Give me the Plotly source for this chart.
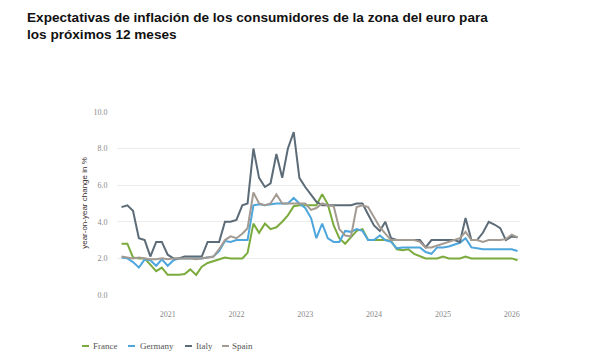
import pandas as pd
import plotly.graph_objects as go

months = pd.date_range("2020-05-01", periods=70, freq="MS")

france = [2.8,2.8,2.05,2.0,2.0,1.65,1.3,1.5,1.1,1.1,
          1.1,1.15,1.4,1.1,1.55,1.75,1.85,1.95,2.05,2.0,
          2.0,2.0,2.3,3.9,3.4,3.9,3.6,3.7,4.0,4.35,
          4.85,4.9,4.9,4.9,4.9,5.5,4.95,3.8,3.1,2.8,
          3.15,3.5,3.6,3.0,3.0,3.0,3.0,2.95,2.5,2.45,
          2.5,2.25,2.1,2.0,2.0,2.0,2.1,2.0,2.0,2.0,
          2.1,2.0,2.0,2.0,2.0,2.0,2.0,2.0,2.0,1.9]
germany = [2.05,2.0,1.8,1.5,1.95,1.9,1.6,1.95,1.6,1.9,
           2.0,2.0,2.0,2.0,2.0,2.05,2.1,2.4,2.95,2.9,
           3.0,3.0,3.0,4.9,4.95,4.9,4.95,5.0,5.0,5.0,
           5.3,5.0,4.75,4.2,3.1,3.9,3.1,2.9,2.9,3.5,
           3.45,3.6,3.5,3.0,3.0,3.25,3.0,2.9,2.55,2.6,
           2.6,2.6,2.6,2.35,2.25,2.6,2.6,2.65,2.75,2.85,
           3.1,2.6,2.55,2.5,2.5,2.5,2.5,2.5,2.5,2.4]
italy = [4.8,4.9,4.6,3.1,3.0,2.1,2.9,2.9,2.2,2.0,
         2.0,2.1,2.1,2.1,2.1,2.9,2.9,2.9,4.0,4.0,
         4.1,4.9,5.0,8.0,6.4,5.9,6.1,7.7,6.4,8.0,
         8.9,6.4,5.9,5.45,5.1,4.9,4.9,4.9,4.9,4.9,
         4.9,5.0,5.0,4.4,3.8,3.5,4.0,3.1,3.0,3.0,
         3.0,3.0,3.0,2.6,3.0,3.0,3.0,3.0,3.0,2.9,
         4.2,3.0,3.0,3.4,4.0,3.85,3.65,3.0,3.2,3.15]
spain = [2.1,2.05,2.0,2.05,2.0,1.95,1.95,2.0,1.95,2.0,
         2.0,2.0,2.0,1.95,2.0,2.05,2.1,2.5,3.0,3.2,
         3.1,3.35,3.65,5.6,5.0,4.9,5.0,5.5,5.0,5.0,
         5.0,5.0,5.0,4.65,4.75,5.0,4.9,4.85,3.6,3.25,
         3.2,4.8,4.9,4.8,4.25,3.7,3.35,3.0,3.0,3.0,
         3.0,3.0,2.9,2.6,2.6,2.7,2.8,2.9,3.0,3.1,
         3.45,3.0,3.0,2.9,3.0,3.0,3.0,3.05,3.3,3.15]

series_names = ["France", "Germany", "Italy", "Spain"]
series_values = [france, germany, italy, spain]
colors = ["#7aab3c", "#4ea6dc", "#5b6b77", "#a39a92"]
y_ticks = [0, 2, 4, 6, 8, 10]
title_lines = ["Expectativas de inflación de los consumidores de la zona del euro para",
               "los próximos 12 meses"]
y_title = "year-on-year change in %"

# page body has an 8px margin; figure coords = screen coords - 8
OFF = 8
W, H = 612, 358
L, T = 117 - OFF, 111 - OFF
pw, ph = 403, 184
R, B = W - L - pw, H - T - ph

def px_x(x):
    return (x - OFF - L) / pw

def px_y(y):
    return (H - B - (y - OFF)) / ph

fig = go.Figure()
for name, vals, col in zip(series_names, series_values, colors):
    fig.add_trace(go.Scatter(x=months, y=vals, mode="lines", name=name,
                             line=dict(color=col, width=2), showlegend=False))

serif = "Liberation Serif"
fig.update_layout(
    width=W, height=H, margin=dict(l=L, r=R, t=T, b=B),
    paper_bgcolor="white", plot_bgcolor="white",
    font=dict(family=serif, size=8, color="#8a8a8a"),
    xaxis=dict(type="date", range=["2020-04-07", "2026-02-14"],
               tick0="2021-01-01", dtick="M12", tickformat="%Y",
               showgrid=False, zeroline=False, showline=False,
               ticks="outside", ticklen=11, tickcolor="rgba(0,0,0,0)",
               tickfont=dict(family=serif, size=8, color="#8a8a8a")),
    yaxis=dict(range=[0, 10.05], tickvals=y_ticks, tickformat=".1f",
               showgrid=True, gridcolor="#ececec", gridwidth=1,
               zeroline=False, showline=False,
               ticks="outside", ticklen=7, tickcolor="rgba(0,0,0,0)",
               tickfont=dict(family=serif, size=8, color="#8a8a8a"),
               title=dict(text=y_title, standoff=4,
                          font=dict(family="Liberation Sans", size=8, color="#3a2e2e"))),
)

# title lines
for i, line in enumerate(title_lines):
    fig.add_annotation(text="<b>" + line + "</b>", xref="paper", yref="paper",
                       x=px_x(25), y=px_y(17.5 + 16.7 * i),
                       xanchor="left", yanchor="middle", showarrow=False,
                       font=dict(family="Liberation Sans", size=13.6, color="#111111"))

# custom legend
leg_pos = [(82, 91), (128, 138), (185, 194), (222, 230)]
yp = px_y(346)
for (lx, tx), name, col in zip(leg_pos, series_names, colors):
    fig.add_shape(type="line", xref="paper", yref="paper",
                  x0=px_x(lx), x1=px_x(lx + 7), y0=yp, y1=yp,
                  line=dict(color=col, width=2))
    fig.add_annotation(text=name, xref="paper", yref="paper",
                       x=px_x(tx), y=yp, xanchor="left", yanchor="middle",
                       showarrow=False,
                       font=dict(family=serif, size=9, color="#555555"))

fig.write_html("out.html")
